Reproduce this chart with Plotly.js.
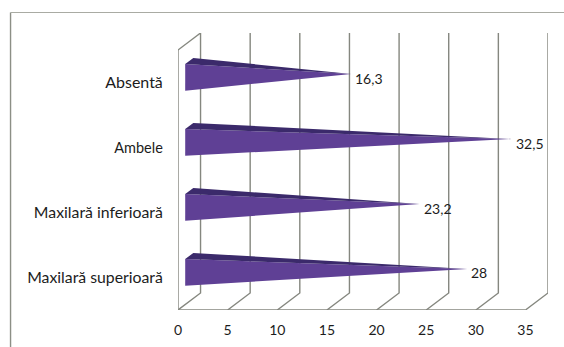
<!DOCTYPE html>
<html>
<head>
<meta charset="utf-8">
<script src="https://cdn.plot.ly/plotly-3.0.1.min.js"></script>
<style>html,body{margin:0;padding:0;background:#fff}#chart{width:564px;height:347px}</style>
</head>
<body>
<div id="chart"></div>
<script>
// Location of the finding, bottom row first (the y axis counts upward)
const categories = ['Maxilară superioară', 'Maxilară inferioară', 'Ambele', 'Absentă'];
const values = [28, 23.2, 32.5, 16.3];
const xTicks = [0, 5, 10, 15, 20, 25, 30, 35];
const categorySizes = [15.8, 15.8, 14.5, 16];

// Oblique projection used for the fake 3D box: full depth, in axis units
const DEPTH_X = 2.27;
const DEPTH_Y = 0.262;
const NEAR = 0.32, MID = 0.5, FAR = 0.68;   // depth planes of each pyramid
const BAND_LOW = 0.29, BAND_HIGH = 0.70;    // pyramid base within its category row

const project = (v, row, depth) => [v + depth * DEPTH_X, row + depth * DEPTH_Y];

function polyline(points) {
  return { x: points.map(p => p ? p[0] : null), y: points.map(p => p ? p[1] : null) };
}

// Walls of the box: floor lines and back-wall lines per x tick
const wallPts = [];
xTicks.forEach(v => {
  wallPts.push(project(v, 0, 0), project(v, 0, 1), project(v, categories.length, 1), null);
});
wallPts.push(project(0, categories.length, 0), project(0, categories.length, 1), null);

// Front edges of the box and the category separators
const frontPts = [
  [0, categories.length], [0, 0], [xTicks[xTicks.length - 1], 0], null
];
for (let r = 0; r <= categories.length; r++) frontPts.push([-0.6, r], [0, r], null);
xTicks.forEach(v => frontPts.push([v, 0], [v, -0.05], null));

const traces = [];
const lineStyle = { color: '#85877f', width: 1.4 };
traces.push(Object.assign({ type: 'scatter', mode: 'lines', line: lineStyle, hoverinfo: 'skip', cliponaxis: false }, polyline(wallPts)));
traces.push(Object.assign({ type: 'scatter', mode: 'lines', line: lineStyle, hoverinfo: 'skip', cliponaxis: false }, polyline(frontPts)));

// One pyramid per category: a lit front face and a dark top face
values.forEach((v, i) => {
  const tip = project(v, i + 0.5, MID);
  const baseLow = project(0, i + BAND_LOW, NEAR);
  const baseHigh = project(0, i + BAND_HIGH, NEAR);
  const backHigh = project(0, i + BAND_HIGH, FAR);
  traces.push(Object.assign({
    type: 'scatter', mode: 'lines', fill: 'toself', fillcolor: '#5f4095',
    line: { width: 0 }, hoverinfo: 'skip', cliponaxis: false
  }, polyline([baseLow, baseHigh, tip, baseLow])));
  traces.push(Object.assign({
    type: 'scatter', mode: 'lines', fill: 'toself', fillcolor: '#3b2a6b',
    line: { width: 0 }, hoverinfo: 'skip', cliponaxis: false
  }, polyline([baseHigh, backHigh, tip, baseHigh])));
});

// Value labels sit just beyond each tip
const annotations = values.map((v, i) => {
  const tip = project(v, i + 0.5, MID);
  return {
    x: tip[0], y: tip[1], xref: 'x', yref: 'y', showarrow: false,
    text: String(v).replace('.', ','), xanchor: 'left', yanchor: 'middle',
    xshift: 2, yshift: -4, font: { family: 'Lato, sans-serif', size: 14, color: '#1c1c1c' }
  };
});

const layout = {
  width: 564, height: 347,
  margin: { l: 178, r: 16, t: 33, b: 37 },
  paper_bgcolor: '#fff', plot_bgcolor: 'rgba(0,0,0,0)',
  showlegend: false,
  font: { family: 'Lato, sans-serif', color: '#1c1c1c', size: 14 },
  xaxis: {
    range: [0, 35 + DEPTH_X], tickmode: 'array', tickvals: xTicks, ticktext: xTicks.map(String),
    showgrid: false, zeroline: false, showline: false, ticks: 'outside', ticklen: 7,
    tickcolor: 'rgba(0,0,0,0)', tickfont: { family: 'Lato, sans-serif', size: 14, color: '#1c1c1c' }
  },
  yaxis: {
    range: [0, categories.length + DEPTH_Y], tickmode: 'array',
    tickvals: categories.map((c, i) => i + 0.5),
    ticktext: categories.map((c, i) => `<span style="font-size:${categorySizes[i]}px">${c}</span>`),
    showgrid: false, zeroline: false, showline: false, ticks: 'outside', ticklen: 11,
    tickcolor: 'rgba(0,0,0,0)', tickfont: { family: 'Lato, sans-serif', size: 15.8, color: '#1c1c1c' }
  },
  annotations: annotations,
  shapes: [
    // Open picture frame: left and top edges only
    { type: 'line', xref: 'paper', yref: 'paper', x0: -167 / 369, x1: -167 / 369, y0: 1 + 20.5 / 277, y1: -37 / 277, line: { color: '#8c8f86', width: 1.4 } },
    { type: 'line', xref: 'paper', yref: 'paper', x0: -167 / 369, x1: 386 / 369, y0: 1 + 20.5 / 277, y1: 1 + 20.5 / 277, line: { color: '#a9aba3', width: 1.2 } }
  ]
};

Plotly.newPlot('chart', traces, layout, { displayModeBar: false, staticPlot: true });
</script>
</body>
</html>
